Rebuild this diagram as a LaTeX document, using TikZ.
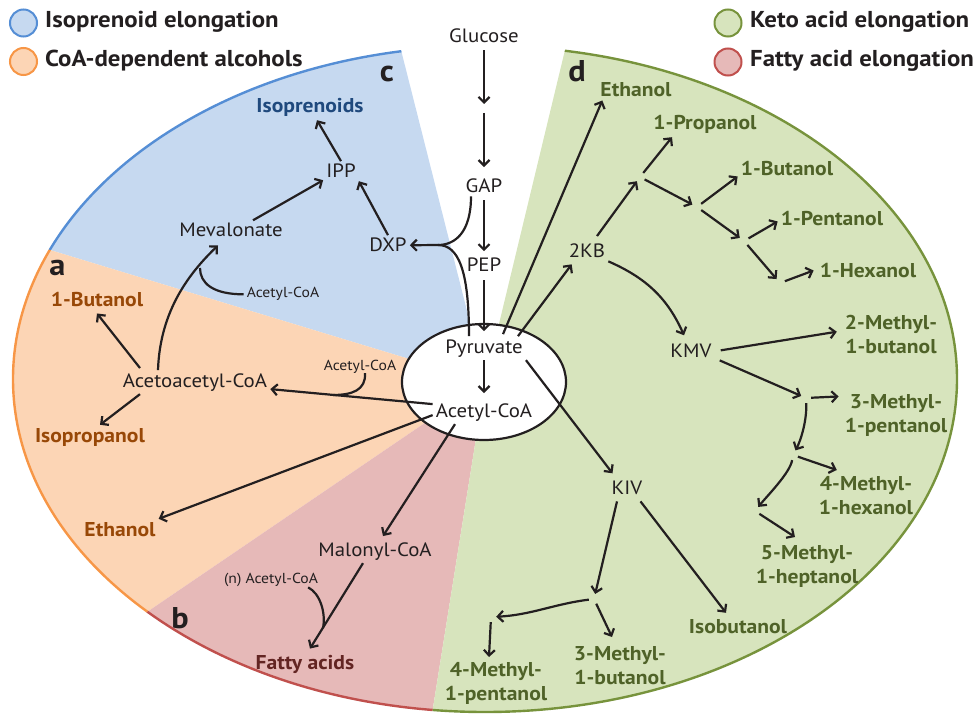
\documentclass[tikz,border=0pt]{standalone}
\usepackage{fontspec}
\setmainfont{PT Sans}[FakeStretch=1.08]
\usetikzlibrary{arrows.meta,calc}
\definecolor{bfill}{HTML}{C6D9F0}
\definecolor{bline}{HTML}{558ED5}
\definecolor{ofill}{HTML}{FCD5B5}
\definecolor{oline}{HTML}{F79646}
\definecolor{rfill}{HTML}{E6B9B8}
\definecolor{rline}{HTML}{C0504D}
\definecolor{gfill}{HTML}{D7E4BD}
\definecolor{gline}{HTML}{77933C}
\definecolor{ink}{HTML}{231F20}
\definecolor{btxt}{HTML}{1F497D}
\definecolor{otxt}{HTML}{984807}
\definecolor{rtxt}{HTML}{632523}
\definecolor{gtxt}{HTML}{4F6228}
\newcommand{\fReg}{\fontsize{19.3}{22}\selectfont}
\newcommand{\fSml}{\fontsize{14.5}{17}\selectfont}
\newcommand{\fPrd}{\fontsize{20}{24.5}\selectfont\bfseries}
\newcommand{\fLeg}{\fontsize{23}{26}\selectfont\bfseries}
\newcommand{\fLet}{\fontsize{30}{32}\selectfont\bfseries}
\begin{document}
\begin{tikzpicture}[x=1pt,y=-1pt,
  lbl/.style={font=\fReg, text=ink, inner sep=3pt, anchor=base},
  sml/.style={font=\fSml, text=ink, inner sep=3pt, anchor=base},
  prd/.style={font=\fPrd, inner sep=3pt, anchor=base},
  mprd/.style={font=\fPrd, text=gtxt, inner sep=3pt, anchor=north, align=center},
  leg/.style={font=\fLeg, text=ink, inner sep=0pt, anchor=base west},
  sect/.style={font=\fLet, text=ink, inner sep=0pt, anchor=base},
  legdot/.style={circle, line width=2pt, minimum size=27pt, inner sep=0pt},
  junc/.style={circle, inner sep=0pt, minimum size=10pt},
  arr/.style={draw=ink, line width=2.2pt, -{Straight Barb[length=5.5pt,width=11pt]}},
  ln/.style={draw=ink, line width=2.2pt},
  rim/.style={line width=2.4pt}
]
\useasboundingbox (0,0) rectangle (975,714);
% ---- sectors
\coordinate (O) at (485,382);
\coordinate (p1) at (400,46);
\coordinate (p2) at (50,250);
\coordinate (p3) at (147,612);
\coordinate (p4) at (432,714);
\coordinate (p5) at (565,50);
\coordinate (f1) at ($(O)!3!(p1)$);
\coordinate (f2) at ($(O)!3!(p2)$);
\coordinate (f3) at ($(O)!3!(p3)$);
\coordinate (f4) at ($(O)!3!(p4)$);
\coordinate (f5) at ($(O)!3!(p5)$);
\begin{scope}
  \clip (485,379) ellipse [x radius=472pt, y radius=333pt];
  \fill[bfill] (O) -- (f1) -- (f2) -- cycle;
  \fill[ofill] (O) -- (f2) -- (f3) -- cycle;
  \fill[rfill] (O) -- (f3) -- (f4) -- cycle;
  \fill[gfill] (O) -- (f4) -- (1500,1400) -- (1500,-700) -- (f5) -- cycle;
\end{scope}
\begin{scope}
  \clip (O) -- (f1) -- (f2) -- cycle;
  \draw[bline, rim] (485,379) ellipse [x radius=472pt, y radius=333pt];
\end{scope}
\begin{scope}
  \clip (O) -- (f2) -- (f3) -- cycle;
  \draw[oline, rim] (485,379) ellipse [x radius=472pt, y radius=333pt];
\end{scope}
\begin{scope}
  \clip (O) -- (f3) -- (f4) -- cycle;
  \draw[rline, rim] (485,379) ellipse [x radius=472pt, y radius=333pt];
\end{scope}
\begin{scope}
  \clip (O) -- (f4) -- (1500,1400) -- (1500,-700) -- (f5) -- cycle;
  \draw[gline, rim] (485,379) ellipse [x radius=472pt, y radius=333pt];
\end{scope}
% ---- pyruvate cell
\draw[ink, line width=2.2pt, fill=white] (484,382) ellipse [x radius=82pt, y radius=58pt];
% ---- legend
\node[legdot, draw=bline, fill=bfill] (l1) at (23.5,23) {};
\node[legdot, draw=oline, fill=ofill] (l2) at (23.5,61.5) {};
\node[legdot, draw=gline, fill=gfill] (l3) at (728,23) {};
\node[legdot, draw=rline, fill=rfill] (l4) at (728,62) {};
\node[leg] (t1) at (45,28) {Isoprenoid elongation};
\node[leg] (t2) at (45,67) {CoA-dependent alcohols};
\node[leg] (t3) at (750,28) {Keto acid elongation};
\node[leg] (t4) at (750,67) {Fatty acid elongation};
% ---- sector letters
\node[sect] (sa) at (57.5,276) {a};
\node[sect] (sb) at (180,628) {b};
\node[sect] (sc) at (387,82) {c};
\node[sect] (sd) at (577,82) {d};
% ---- nodes
\node[lbl] (glc) at (484,43) {Glucose};
\node[lbl] (gap) at (484,193) {GAP};
\node[lbl] (pep) at (484,272) {PEP};
\node[lbl] (pyr) at (484,353) {Pyruvate};
\node[lbl] (acc) at (484,417) {Acetyl-CoA};
\node[lbl] (dxp) at (388,252) {DXP};
\node[lbl] (ipp) at (341,178) {IPP};
\node[prd, text=btxt] (iso) at (310,113) {Isoprenoids};
\node[lbl] (mev) at (231,237) {Mevalonate};
\node[sml] (acs1) at (283,298) {Acetyl-CoA};
\node[prd, text=otxt] (but1) at (97,306) {1-Butanol};
\node[lbl] (aca) at (195,387) {Acetoacetyl-CoA};
\node[sml] (acs2) at (360,370) {Acetyl-CoA};
\node[prd, text=otxt] (ipa) at (90,442) {Isopropanol};
\node[prd, text=otxt] (eth1) at (120,536) {Ethanol};
\node[lbl] (mal) at (375,556) {Malonyl-CoA};
\node[sml] (nac) at (271,583) {(n) Acetyl-CoA};
\node[prd, text=rtxt] (fat) at (305,669) {Fatty acids};
\node[prd, text=gtxt] (eth2) at (636,97) {Ethanol};
\node[lbl] (kb) at (587,258) {2KB};
\node[prd, text=gtxt] (prop) at (705,130) {1-Propanol};
\node[prd, text=gtxt] (but2) at (787,176) {1-Butanol};
\node[prd, text=gtxt] (pent) at (832,226) {1-Pentanol};
\node[prd, text=gtxt] (hex) at (868,277) {1-Hexanol};
\node[lbl] (kmv) at (691,357) {KMV};
\node[mprd] (mb) at (891,312) {2-Methyl-\\1-butanol};
\node[mprd] (mp) at (896,391) {3-Methyl-\\1-pentanol};
\node[mprd] (mh) at (866,473) {4-Methyl-\\1-hexanol};
\node[mprd] (mhp) at (807,542) {5-Methyl-\\1-heptanol};
\node[lbl] (kiv) at (627,494) {KIV};
\node[prd, text=gtxt] (ibu) at (738,633) {Isobutanol};
\node[mprd] (mb3) at (620,643) {3-Methyl-\\1-butanol};
\node[mprd] (mp4) at (496,659) {4-Methyl-\\1-pentanol};
% ---- junctions
\coordinate (g1) at (484,104);
\coordinate (g2) at (484,113);
\coordinate (dxpj) at (438,245);
\coordinate (mj) at (200,268);
\coordinate (aj) at (333,395);
\coordinate (fj) at (323,628);
\node[junc] (j1) at (640,177) {};
\node[junc] (j2) at (697,207) {};
\node[junc] (j3) at (744,241) {};
\node[junc] (j4) at (780,283) {};
\node[junc] (j5) at (806,398) {};
\node[junc] (j6) at (793,455) {};
\node[junc] (j7) at (755,511) {};
\node[junc] (j8) at (594,599) {};
\node[junc] (j9) at (491,617) {};
% ---- central chain
\draw[arr] ([yshift=-4pt]glc.south) -- (g1);
\draw[arr] (g2) -- ([yshift=9pt]gap.north);
\draw[arr] ([yshift=-4pt]gap.south) -- ([yshift=4pt]pep.north);
\draw[arr] ([yshift=-5pt]pep.south) -- ([yshift=5pt]pyr.north);
\draw[arr] (pyr.south) -- ([yshift=7pt]acc.north);
% ---- isoprenoid branch
\draw[ln] ([xshift=-13pt]gap.south) .. controls +(0,36) and +(17,0) .. (dxpj);
\draw[ln] ([xshift=-15pt]pyr.north) .. controls +(0,-67) and +(20,0) .. (dxpj);
\draw[arr] (dxpj) -- (dxp.east);
\draw[arr] (dxp.north) -- (ipp.south east);
\draw[arr] (ipp.north) -- ([xshift=7pt]iso.south);
\draw[arr] ([xshift=22pt]mev.north) -- ([yshift=1pt]ipp.south west);
\draw[arr] ([xshift=-37pt]aca.north) .. controls +(2,-60) and +(-28,27) .. ([xshift=-13pt,yshift=-5pt]mev.south);
\draw[ln] (acs1.west) .. controls +(-31,0) and +(0,15) .. (mj);
% ---- CoA-dependent alcohols
\draw[arr] ([xshift=-55pt,yshift=2pt]aca.north) -- ([yshift=-4pt]but1.south);
\draw[arr] ([xshift=-55pt]aca.south) -- ([xshift=10pt]ipa.north);
\draw[arr] ([yshift=8pt]acc.west) -- ([yshift=-7pt]aca.east);
\draw[ln] ([xshift=5pt,yshift=3pt]acs2.south) .. controls +(1,17) and +(19,0) .. (aj);
\draw[arr] ([yshift=-3pt]acc.west) -- (eth1.north east);
% ---- fatty acids
\draw[arr] ([xshift=-29pt]acc.south) -- ([xshift=8pt,yshift=3pt]mal.north);
\draw[arr] ([xshift=-12pt]mal.south) -- ([xshift=5pt,yshift=3pt]fat.north);
\draw[ln] ([xshift=-13pt,yshift=2pt]nac.south east) .. controls +(12,6) and +(3,-15) .. (fj);
% ---- keto acid elongation
\draw[arr] ([xshift=19pt,yshift=2pt]pyr.north) -- ([xshift=5pt]eth2.south west);
\draw[arr] ([xshift=34pt]pyr.north) -- ([xshift=6pt,yshift=-3pt]kb.south west);
\draw[arr] (pyr.south east) -- ([xshift=4pt,yshift=4pt]kiv.north west);
\draw[arr] ([xshift=10pt,yshift=5pt]kb.north) -- (j1);
\draw[arr] (j1) -- ([xshift=-33pt]prop.south);
\draw[arr] (j1) -- (j2);
\draw[arr] (j2) -- ([yshift=3pt]but2.south west);
\draw[arr] (j2) -- (j3);
\draw[arr] (j3) -- ([yshift=8pt]pent.south west);
\draw[arr] (j3) -- (j4);
\draw[arr] (j4) -- ([xshift=-3pt,yshift=10pt]hex.south west);
\draw[arr] (kb.south east) .. controls +(39,17) and +(-16,-36) .. ([xshift=-7pt,yshift=5pt]kmv.north);
\draw[arr] ([xshift=6pt]kmv.east) -- ([xshift=-5pt,yshift=3pt]mb.west);
\draw[arr] ([xshift=5pt]kmv.south east) -- (j5);
\draw[arr] (j5) -- ([xshift=-3pt,yshift=19pt]mp.west);
\draw[arr] (j5) .. controls +(1,22) and +(8,-15) .. (j6);
\draw[arr] (j6) -- ([xshift=21pt,yshift=3pt]mh.north west);
\draw[arr] (j6) .. controls +(-3,18) and +(12,-15) .. (j7);
\draw[arr] (j7) -- ([xshift=-12pt,yshift=5pt]mhp.north);
\draw[arr] ([xshift=-5pt,yshift=-4pt]kiv.south east) -- ([xshift=-12pt,yshift=3pt]ibu.north);
\draw[arr] ([xshift=-10pt,yshift=-4pt]kiv.south) -- (j8);
\draw[arr] (j8) -- ([xshift=-8pt,yshift=6pt]mb3.north);
\draw[arr] (j8) .. controls +(-40,5) and +(40,-2) .. (j9);
\draw[arr] (j9) -- ([xshift=-7pt,yshift=2pt]mp4.north);
\end{tikzpicture}
\end{document}
